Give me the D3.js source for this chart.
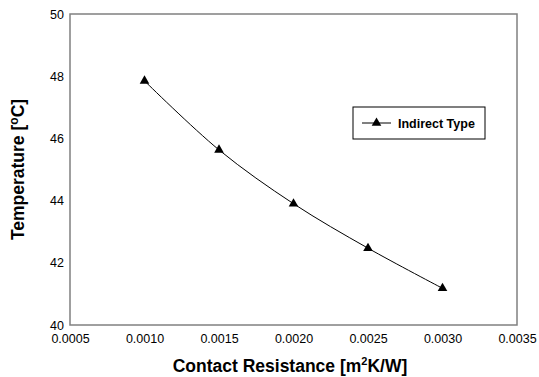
<!DOCTYPE html>
<html>
<head>
<meta charset="utf-8">
<script src="https://cdn.jsdelivr.net/npm/d3@7"></script>
<style>
  body { margin: 0; background: #fff; }
</style>
</head>
<body>
<div id="chart-area"></div>
<script>
const resistance = [0.0010, 0.0015, 0.0020, 0.0025, 0.0030];
const temperature = [47.85, 45.63, 43.9, 42.47, 41.18];
const xTicks = [0.0005, 0.0010, 0.0015, 0.0020, 0.0025, 0.0030, 0.0035];
const yTicks = [40, 42, 44, 46, 48, 50];
const seriesName = 'Indirect Type';

const svgWidth = 539, svgHeight = 377;
const plot = { left: 70, top: 14, right: 517, bottom: 325 };
const font = 'Liberation Sans, Arial, sans-serif';

const svg = d3.select('#chart-area')
  .append('svg')
    .attr('width', svgWidth)
    .attr('height', svgHeight);

const x = d3.scaleLinear().domain([0.0005, 0.0035]).range([plot.left, plot.right]);
const y = d3.scaleLinear().domain([40, 50]).range([plot.bottom, plot.top]);

// frame
svg.append('rect')
  .attr('x', plot.left)
  .attr('y', plot.top)
  .attr('width', plot.right - plot.left)
  .attr('height', plot.bottom - plot.top)
  .attr('fill', 'none')
  .attr('stroke', '#808080')
  .attr('stroke-width', 1.5);

// axes, labels only
const xAxis = svg.append('g')
  .attr('transform', `translate(0,${plot.bottom})`)
  .call(d3.axisBottom(x).tickValues(xTicks).tickFormat(d3.format('.4f')).tickSize(0).tickPadding(9));
const yAxis = svg.append('g')
  .attr('transform', `translate(${plot.left},0)`)
  .call(d3.axisLeft(y).tickValues(yTicks).tickSize(0).tickPadding(6));
[xAxis, yAxis].forEach(a => {
  a.select('.domain').remove();
  a.selectAll('text')
    .attr('font-family', font)
    .attr('font-size', 12.5)
    .attr('fill', '#000');
});

// axis titles
const xTitle = svg.append('text')
  .attr('x', 290)
  .attr('y', 372)
  .attr('text-anchor', 'middle')
  .attr('font-family', font)
  .attr('font-size', 17.5)
  .attr('font-weight', 700);
xTitle.append('tspan').text('Contact Resistance [m');
xTitle.append('tspan').text('2').attr('font-size', 11).attr('dy', -7);
xTitle.append('tspan').text('K/W]').attr('dy', 7);

const yTitle = svg.append('text')
  .attr('transform', `translate(24,${(plot.top + plot.bottom) / 2}) rotate(-90)`)
  .attr('text-anchor', 'middle')
  .attr('font-family', font)
  .attr('font-size', 17.5)
  .attr('font-weight', 700);
yTitle.append('tspan').text('Temperature [');
yTitle.append('tspan').text('o').attr('font-size', 12).attr('dy', -6);
yTitle.append('tspan').text('C]').attr('dy', 6);

// series
const data = resistance.map((r, i) => ({ r, t: temperature[i] }));
const line = d3.line()
  .x(d => x(d.r))
  .y(d => y(d.t))
  .curve(d3.curveCatmullRom);

svg.append('path')
  .datum(data)
  .attr('d', line)
  .attr('fill', 'none')
  .attr('stroke', '#000')
  .attr('stroke-width', 1);

const tri = d3.symbol().type(d3.symbolTriangle).size(40);
svg.selectAll('.marker')
  .data(data)
  .enter()
  .append('path')
    .attr('class', 'marker')
    .attr('d', tri)
    .attr('transform', d => `translate(${x(d.r)},${y(d.t)})`)
    .attr('fill', '#000');

// legend
const legend = svg.append('g').attr('transform', 'translate(353,107)');
legend.append('rect')
  .attr('width', 132)
  .attr('height', 32)
  .attr('fill', '#fff')
  .attr('stroke', '#000')
  .attr('stroke-width', 1);
legend.append('line')
  .attr('x1', 9).attr('x2', 38)
  .attr('y1', 16).attr('y2', 16)
  .attr('stroke', '#000');
legend.append('path')
  .attr('d', tri)
  .attr('transform', 'translate(23.5,16)')
  .attr('fill', '#000');
legend.append('text')
  .text(seriesName)
  .attr('x', 45)
  .attr('y', 20.5)
  .attr('font-family', font)
  .attr('font-size', 12.5)
  .attr('font-weight', 700);
</script>
</body>
</html>
